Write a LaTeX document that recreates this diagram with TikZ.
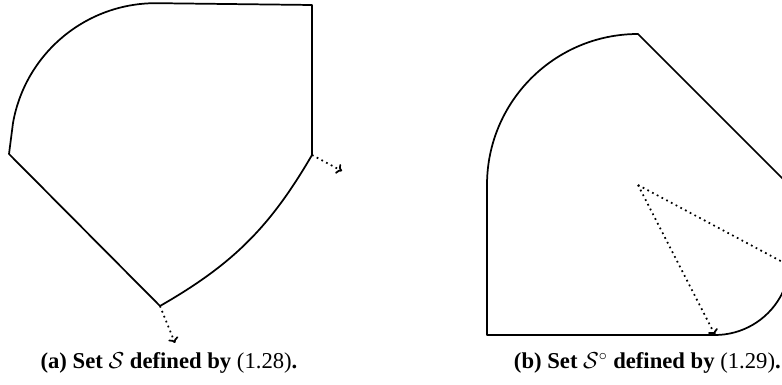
\documentclass[tikz,border=0pt]{standalone}
\usepackage{fontspec}
\setmainfont{Liberation Serif}
\usetikzlibrary{arrows.meta}

\begin{document}
\begin{tikzpicture}[x=0.75pt, y=0.75pt,
	setline/.style={line width=1.3pt, line join=round},
	dualray/.style={line width=1.3pt, dash pattern=on 1.3pt off 2.7pt, -{To[length=4pt, width=8pt]}},
	subcap/.style={font=\fontsize{17pt}{20pt}\selectfont, inner sep=0pt}]
	\useasboundingbox (0,0) rectangle (782,385);
	\clip (0,0) rectangle (782,385);
	% Set S, corners
	\coordinate (a1) at (157,380);
	\coordinate (a2) at (312,380);
	\coordinate (a3) at (312,230);
	\coordinate (a4) at (160,79);
	\coordinate (a5) at (9,231);
	\coordinate (a6) at (13,262);
	% Set S, outline
	\draw[setline] (a6) arc[start angle=170, end angle=90, radius=145] -- (a2) -- (a3)
		to[bend left=15] (a4) -- (a5) -- cycle;
	% Normal directions
	\coordinate (na3) at (342,214);
	\coordinate (na4) at (175,42);
	\draw[dualray] (a3) -- (na3);
	\draw[dualray] (a4) -- (na4);
	% Set S polar, corners
	\coordinate (b0) at (638,200);
	\coordinate (b1) at (638,351);
	\coordinate (b2) at (487,200);
	\coordinate (b3) at (487,50);
	\coordinate (b4) at (715,50);
	\coordinate (b5) at (830,159);
	% Set S polar, outline
	\draw[setline] (b5) -- (b1) arc[start angle=90, end angle=180, radius=151] -- (b3) -- (b4)
		arc[start angle=-90, end angle=10, radius=75];
	% Rays from the centre
	\coordinate (c1) at (790,119);
	\draw[dualray] (b0) -- (b4);
	\draw[dualray] (b0) -- (c1);
	% Captions
	\node[subcap] (capa) at (169,22) {\textbf{(a) Set $\mathcal{S}$ defined by} (1.28)\textbf{.}};
	\node[subcap, anchor=east] (capb) at (781,22) {\textbf{(b) Set $\mathcal{S}^{\circ}$ defined by} (1.29)\textbf{.}};
\end{tikzpicture}
\end{document}
